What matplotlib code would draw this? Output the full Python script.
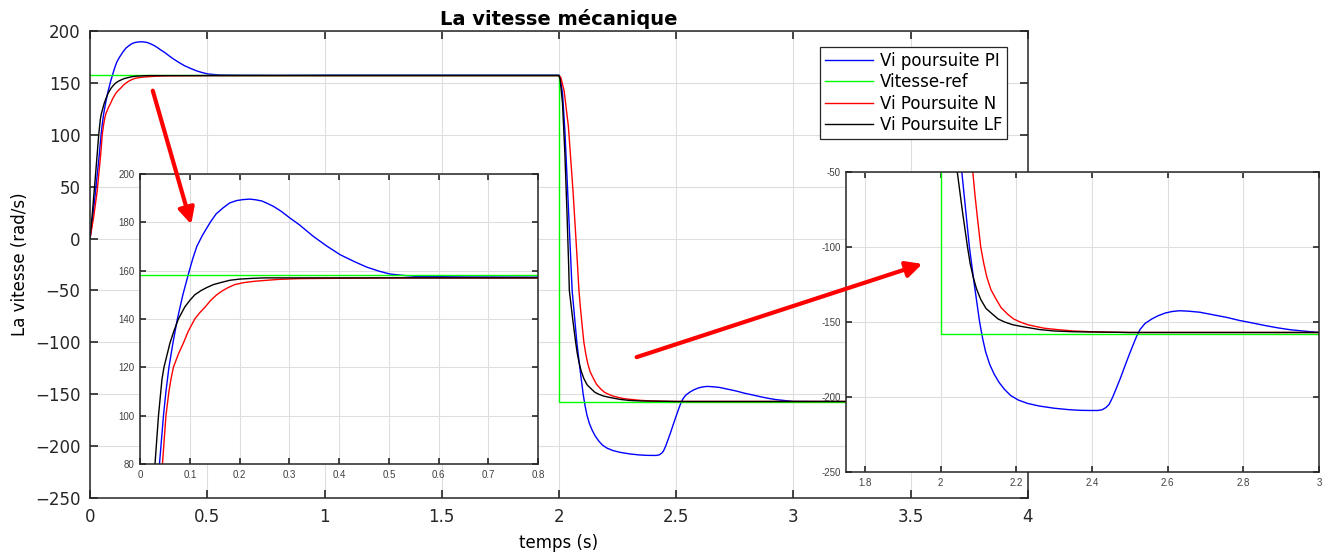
import numpy as np
import matplotlib
matplotlib.use("Agg")
import matplotlib.pyplot as plt
from matplotlib.patches import FancyArrowPatch
from matplotlib.ticker import FuncFormatter

# Vitesse-ref (rad/s)
t_ref = [0, 2, 2, 4]
v_ref = [158, 158, -158, -158]

# Vi poursuite PI
t_pi = [0, 0.01, 0.02, 0.03, 0.039, 0.047, 0.052, 0.058, 0.066, 0.075, 0.086,
        0.099, 0.106, 0.114, 0.125, 0.141, 0.153, 0.167, 0.18, 0.194, 0.207,
        0.221, 0.233, 0.245, 0.256, 0.268, 0.284, 0.301, 0.32, 0.348, 0.375,
        0.402, 0.43, 0.455, 0.48, 0.502, 0.53, 0.556, 0.6, 0.65, 0.8, 1.0, 1.5,
        2.0, 2.005, 2.015, 2.025, 2.035, 2.045, 2.05, 2.056, 2.066, 2.076,
        2.089, 2.103, 2.111, 2.119, 2.13, 2.142, 2.155, 2.169, 2.185, 2.205,
        2.23, 2.26, 2.3, 2.341, 2.37, 2.395, 2.415, 2.427, 2.437, 2.445,
        2.454, 2.463, 2.475, 2.486, 2.498, 2.509, 2.518, 2.527, 2.54, 2.558,
        2.575, 2.594, 2.612, 2.631, 2.655, 2.685, 2.72, 2.757, 2.79, 2.821,
        2.86, 2.893, 2.925, 2.957, 3.0, 3.5, 4.0]
v_pi = [0, 18, 38, 60, 80, 100, 110, 120, 130, 140, 150,
        160, 165, 170, 174.5, 180, 183.5, 186, 188, 189, 189.4,
        189.6, 189.3, 188.8, 187.8, 186.6, 184.5, 181.8, 179, 174.2, 170.2,
        166.6, 163.8, 161.5, 159.8, 158.6, 158.0, 157.6, 157.5, 157.4, 157.3, 157.5, 157.5,
        157.5, 155, 140, 104, 55, 5, -20, -50, -75, -100,
        -125, -150, -161, -170, -178.5, -185, -190.5, -195, -199, -202,
        -204.3, -206, -207.5, -208.5, -208.9, -209, -209, -208.5, -207, -205,
        -200.5, -195, -187.5, -180, -172, -165, -159.5, -155, -151, -148,
        -145.8, -144, -143, -142.5, -142.8, -143.5, -145.2, -147, -149, -150.5,
        -152.5, -154, -155.2, -156, -157, -157.5, -157.5]

# Vi Poursuite N
t_n = [0, 0.015, 0.03, 0.045, 0.052, 0.058, 0.062, 0.067, 0.077, 0.087, 0.097,
       0.11, 0.12, 0.131, 0.142, 0.154, 0.165, 0.177, 0.19, 0.207, 0.23,
       0.254, 0.28, 0.32, 0.5, 1.0, 2.0, 2.008, 2.022, 2.04, 2.06, 2.078,
       2.085, 2.091, 2.097, 2.106, 2.114, 2.122, 2.133, 2.147, 2.16, 2.178,
       2.193, 2.21, 2.23, 2.251, 2.275, 2.305, 2.35, 2.395, 2.45, 2.5, 3.0, 4.0]
v_n = [0, 20, 45, 80, 100, 110, 115, 120, 125.5, 130, 135,
       140, 142.6, 145, 147.7, 150, 151.6, 153, 154.2, 155, 155.6,
       156, 156.4, 156.7, 157, 157, 157, 155, 142, 108, 45, -22,
       -50, -66, -80, -100, -111, -120, -128.5, -135, -140.5, -145,
       -148, -150, -151.8, -153, -154.2, -155, -156, -156.5, -156.8, -157, -157, -157]

# Vi Poursuite LF
t_lf = [0, 0.01, 0.02, 0.03, 0.037, 0.044, 0.048, 0.054, 0.06, 0.068, 0.077,
        0.09, 0.1, 0.11, 0.122, 0.134, 0.147, 0.161, 0.18, 0.2, 0.225, 0.25,
        0.4, 1.0, 2.0, 2.005, 2.015, 2.025, 2.034, 2.041, 2.044, 2.058, 2.071,
        2.078, 2.086, 2.095, 2.106, 2.12, 2.138, 2.152, 2.169, 2.19, 2.214,
        2.26, 2.3, 2.35, 2.5, 3.0, 4.0]
v_lf = [0, 25, 52, 80, 100, 115, 120, 125, 130, 135, 140,
        145, 147.7, 150, 151.7, 153, 154.2, 155, 156, 156.5, 156.8, 157,
        157, 157, 157, 153, 130, 82, 25, -25, -50, -77, -100,
        -111, -120, -128, -135, -141, -145, -148, -150, -151.8, -153,
        -155, -156, -156.5, -157, -157, -157]

labels = ["Vi poursuite PI", "Vitesse-ref", "Vi Poursuite N", "Vi Poursuite LF"]

plt.rcParams['font.family'] = ['DejaVu Sans']
DARK = '#262626'


def draw_curves(ax):
    ax.plot(t_pi, v_pi, color='#0000ff', lw=1.0, label=labels[0])
    ax.plot(t_ref, v_ref, color='#00ff00', lw=1.0, label=labels[1])
    ax.plot(t_n, v_n, color='#ff0000', lw=1.0, label=labels[2])
    ax.plot(t_lf, v_lf, color='#000000', lw=1.0, label=labels[3])


def style(ax, size, tlen, pad, minus):
    ax.grid(True, color='#dedede', lw=0.8)
    ax.set_axisbelow(True)
    ax.tick_params(direction='in', top=True, right=True, length=tlen,
                   width=1.2, labelsize=size, colors=DARK, pad=pad)
    for s in ax.spines.values():
        s.set_color(DARK)
        s.set_linewidth(1.1)
    fmt = FuncFormatter(lambda v, p: f'{v:g}'.replace('-', minus))
    ax.xaxis.set_major_formatter(fmt)
    ax.yaxis.set_major_formatter(fmt)


fig = plt.figure(figsize=(13.34, 5.53), dpi=100)

# main plot
ax = fig.add_axes([0.0675, 0.0995, 0.7031, 0.8445])
draw_curves(ax)
ax.set_xlim(0, 4)
ax.set_ylim(-250, 200)
ax.set_xticks(np.arange(0, 4.01, 0.5))
ax.set_yticks(np.arange(-250, 201, 50))
style(ax, 12, 6, 7, '\u2212')
ax.set_title("La vitesse mécanique", fontsize=14, fontweight='bold', pad=4)
ax.set_xlabel("temps (s)", fontsize=12, labelpad=6)
ax.set_ylabel("La vitesse (rad/s)", fontsize=12, labelpad=4)
leg = ax.legend(loc='upper right', bbox_to_anchor=(0.978, 0.966), fontsize=12,
                fancybox=False, framealpha=1, edgecolor=DARK,
                handlelength=2.9, borderpad=0.3, labelspacing=0.2,
                handletextpad=0.4, borderaxespad=0)
leg.get_frame().set_linewidth(0.9)

# zoom on the start
ax1 = fig.add_axes([0.105, 0.161, 0.2984, 0.5244])
draw_curves(ax1)
ax1.set_xlim(0, 0.8)
ax1.set_ylim(80, 200)
ax1.set_xticks(np.arange(0, 0.81, 0.1))
ax1.set_yticks(np.arange(80, 201, 20))
style(ax1, 7, 4, 4, '-')
for lab in ax1.get_xticklabels() + ax1.get_yticklabels():
    lab.set_family('Liberation Sans')
    lab.set_color('#404040')

# zoom on the reversal
ax2 = fig.add_axes([0.6342, 0.1465, 0.3546, 0.5425])
draw_curves(ax2)
ax2.set_xlim(1.75, 3)
ax2.set_ylim(-250, -50)
ax2.set_xticks(np.arange(1.8, 3.01, 0.2))
ax2.set_yticks(np.arange(-250, -49, 50))
style(ax2, 7, 4, 4, '-')
for lab in ax2.get_xticklabels() + ax2.get_yticklabels():
    lab.set_family('Liberation Sans')
    lab.set_color('#404040')

# red arrows pointing into the zooms
for a, b in [((152, 88), (192, 227)), ((634, 358), (925, 263))]:
    arr = FancyArrowPatch((a[0] / 1334, 1 - a[1] / 553), (b[0] / 1334, 1 - b[1] / 553),
                          transform=fig.transFigure, arrowstyle='-|>',
                          mutation_scale=24, lw=3, color='#ff0000', zorder=5)
    fig.add_artist(arr)

fig.savefig("out.png", dpi=100)
